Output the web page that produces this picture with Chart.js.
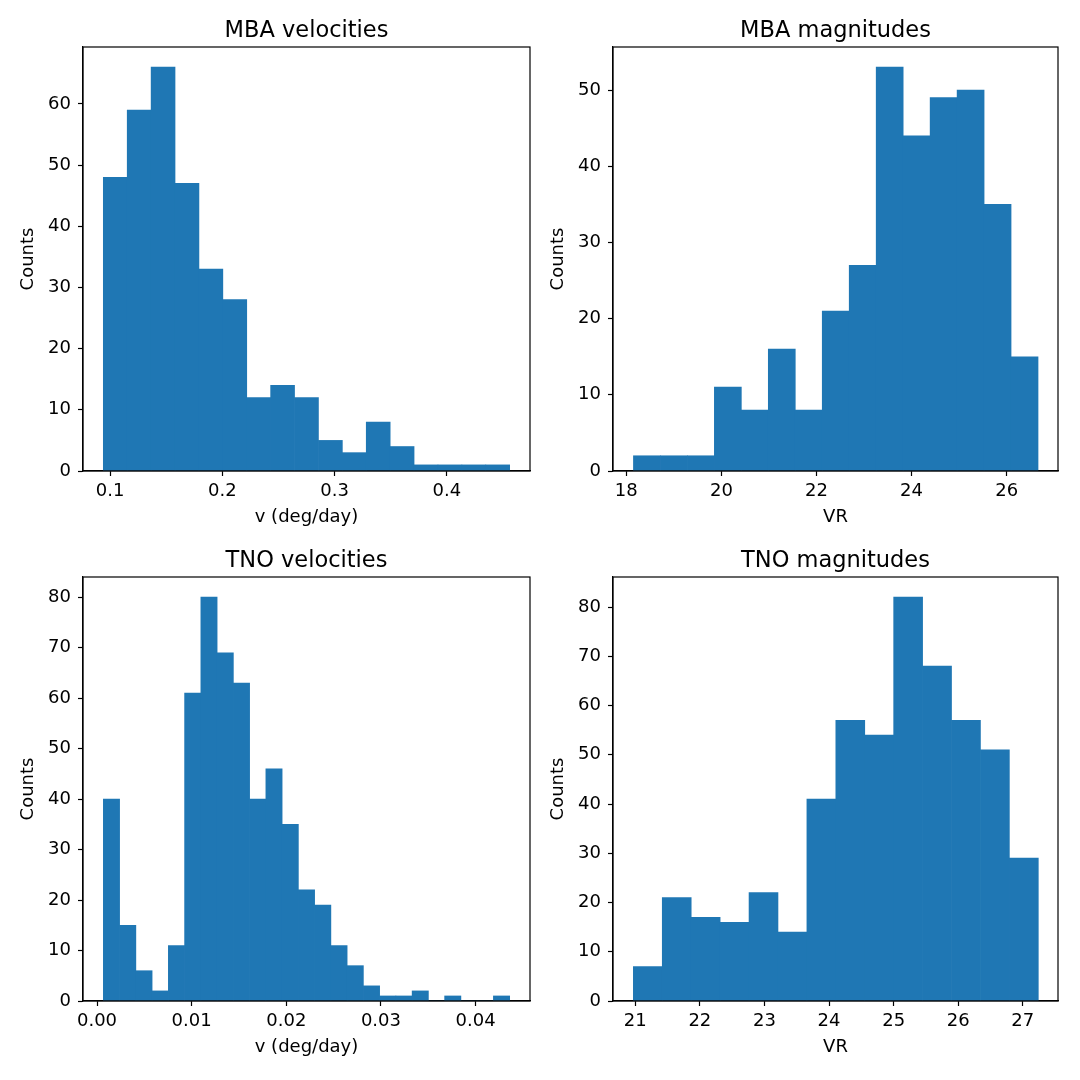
<!DOCTYPE html>
<html>
<head>
<meta charset="utf-8">
<script src="https://cdn.jsdelivr.net/npm/chart.js@4.4.0/dist/chart.umd.min.js"></script>
<style>
    html, body { margin: 0; padding: 0; background: #fff; }
    #wrap { position: relative; width: 1080px; height: 1080px; overflow: hidden; }
    #wrap canvas { position: absolute; }
</style>
</head>
<body>
<div id="wrap">
    <canvas id="mba-vel" width="540" height="540" style="left:0;top:0"></canvas>
    <canvas id="mba-mag" width="540" height="540" style="left:530px;top:0"></canvas>
    <canvas id="tno-vel" width="540" height="540" style="left:0;top:530px"></canvas>
    <canvas id="tno-mag" width="540" height="540" style="left:530px;top:530px"></canvas>
</div>
<script>
// Histogram counts
const mbaVelCounts = [48, 59, 66, 47, 33, 28, 12, 14, 12, 5, 3, 8, 4, 1, 1, 1, 1];
const mbaMagCounts = [2, 2, 2, 11, 8, 16, 8, 21, 27, 53, 44, 49, 50, 35, 15];
const tnoVelCounts = [40, 15, 6, 2, 11, 61, 80, 69, 63, 40, 46, 35, 22, 19, 11, 7, 3, 1, 1, 2, 0, 1, 0, 0, 1];
const tnoMagCounts = [7, 21, 17, 16, 22, 14, 41, 57, 54, 82, 68, 57, 51, 29];

// Bin ranges (first edge, last edge)
const mbaVelBins = [0.094, 0.456];
const mbaMagBins = [18.15, 26.66];
const tnoVelBins = [0.00067, 0.0436];
const tnoMagBins = [20.97, 27.24];

// Axis ranges
const mbaVelX = [0.0759, 0.4741];
const mbaMagX = [17.72, 27.08];
const tnoVelX = [-0.00148, 0.04575];
const tnoMagX = [20.655, 27.545];
const mbaVelYMax = 69.3;
const mbaMagYMax = 55.65;
const tnoVelYMax = 84;
const tnoMagYMax = 86.1;

// Tick values
const mbaVelTicks = [0.1, 0.2, 0.3, 0.4];
const mbaMagTicks = [18, 20, 22, 24, 26];
const tnoVelTicks = [0.00, 0.01, 0.02, 0.03, 0.04];
const tnoMagTicks = [21, 22, 23, 24, 25, 26, 27];
const mbaVelYTicks = [0, 10, 20, 30, 40, 50, 60];
const mbaMagYTicks = [0, 10, 20, 30, 40, 50];
const tnoVelYTicks = [0, 10, 20, 30, 40, 50, 60, 70, 80];
const tnoMagYTicks = [0, 10, 20, 30, 40, 50, 60, 70, 80];

const BAR_COLOR = '#1f77b4';

Chart.defaults.font.family = "'DejaVu Sans', sans-serif";
Chart.defaults.color = '#000';

const framePlugin = {
    id: 'frame',
    afterDatasetsDraw(chart) {
        const { ctx, chartArea: a } = chart;
        ctx.save();
        ctx.strokeStyle = '#000';
        ctx.lineWidth = 1.2;
        ctx.strokeRect(a.left, a.top, a.right - a.left, a.bottom - a.top);
        ctx.restore();
    }
};

function toPoints(counts, bins) {
    const width = (bins[1] - bins[0]) / counts.length;
    return counts.map((c, i) => ({ x: bins[0] + (i + 0.5) * width, y: c }));
}

function fixedTicks(values) {
    return scale => { scale.ticks = values.map(v => ({ value: v })); };
}

function drawHistogram(id, cfg) {
    const canvas = document.getElementById(id);
    if (!canvas) return;
    new Chart(canvas.getContext('2d'), {
        type: 'bar',
        data: {
            datasets: [{
                data: toPoints(cfg.counts, cfg.bins),
                backgroundColor: BAR_COLOR,
                borderWidth: 0,
                categoryPercentage: 1,
                barPercentage: 1
            }]
        },
        options: {
            responsive: false,
            animation: false,
            layout: { padding: { left: 0, right: cfg.padRight, top: 0, bottom: 0 } },
            plugins: {
                legend: { display: false },
                tooltip: { enabled: false },
                title: {
                    display: true,
                    fullSize: false,
                    text: cfg.title,
                    font: { size: 22.5, weight: 'normal' },
                    padding: { top: 17.2, bottom: 2.8 }
                }
            },
            scales: {
                x: {
                    type: 'linear',
                    offset: false,
                    min: cfg.xRange[0],
                    max: cfg.xRange[1],
                    afterBuildTicks: fixedTicks(cfg.xTicks),
                    afterFit: s => { s.height = 69; },
                    grid: { display: true, offset: false, drawOnChartArea: false, drawTicks: true, tickLength: 5, tickColor: '#000', tickWidth: 1.2 },
                    border: { display: true, color: '#000', width: 1.2 },
                    ticks: {
                        font: { size: 18 },
                        padding: 5,
                        maxRotation: 0,
                        callback: v => v.toFixed(cfg.xDecimals)
                    },
                    title: { display: true, text: cfg.xLabel, font: { size: 18 }, padding: { top: 0, bottom: 12 } }
                },
                y: {
                    min: 0,
                    max: cfg.yMax,
                    afterBuildTicks: fixedTicks(cfg.yTicks),
                    afterFit: s => { s.width = 83; },
                    grid: { display: true, drawOnChartArea: false, drawTicks: true, tickLength: 5, tickColor: '#000', tickWidth: 1.2 },
                    border: { display: true, color: '#000', width: 1.2 },
                    ticks: { font: { size: 18 }, padding: 7, callback: v => String(v) },
                    title: { display: true, text: 'Counts', font: { size: 18 }, padding: { top: 17.5, bottom: 0 } }
                }
            }
        },
        plugins: [framePlugin]
    });
}

drawHistogram('mba-vel', {
    title: 'MBA velocities', xLabel: 'v (deg/day)', padRight: 10,
    counts: mbaVelCounts, bins: mbaVelBins, xRange: mbaVelX, xTicks: mbaVelTicks, xDecimals: 1,
    yMax: mbaVelYMax, yTicks: mbaVelYTicks
});
drawHistogram('mba-mag', {
    title: 'MBA magnitudes', xLabel: 'VR', padRight: 12,
    counts: mbaMagCounts, bins: mbaMagBins, xRange: mbaMagX, xTicks: mbaMagTicks, xDecimals: 0,
    yMax: mbaMagYMax, yTicks: mbaMagYTicks
});
drawHistogram('tno-vel', {
    title: 'TNO velocities', xLabel: 'v (deg/day)', padRight: 10,
    counts: tnoVelCounts, bins: tnoVelBins, xRange: tnoVelX, xTicks: tnoVelTicks, xDecimals: 2,
    yMax: tnoVelYMax, yTicks: tnoVelYTicks
});
drawHistogram('tno-mag', {
    title: 'TNO magnitudes', xLabel: 'VR', padRight: 12,
    counts: tnoMagCounts, bins: tnoMagBins, xRange: tnoMagX, xTicks: tnoMagTicks, xDecimals: 0,
    yMax: tnoMagYMax, yTicks: tnoMagYTicks
});
</script>
</body>
</html>
